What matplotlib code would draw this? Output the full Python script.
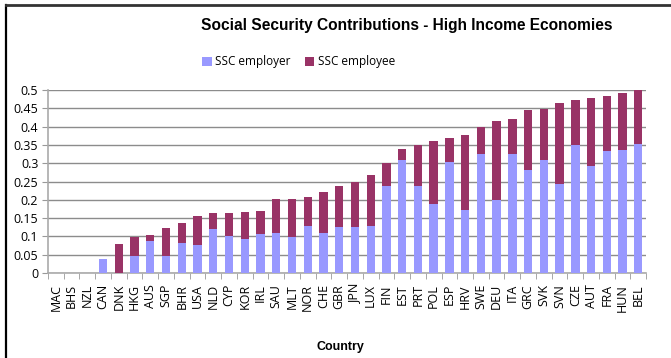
import numpy as np
import matplotlib.pyplot as plt
from matplotlib.lines import Line2D

# SSC rates as share of wages, sorted by total
countries = ["MAC", "BHS", "NZL", "CAN", "DNK", "HKG", "AUS", "SGP", "BHR", "USA",
             "NLD", "CYP", "KOR", "IRL", "SAU", "MLT", "NOR", "CHE", "GBR", "JPN",
             "LUX", "FIN", "EST", "PRT", "POL", "ESP", "HRV", "SWE", "DEU", "ITA",
             "GRC", "SVK", "SVN", "CZE", "AUT", "FRA", "HUN", "BEL"]
ssc_employer = [0, 0, 0, 0.039, 0, 0.047, 0.088, 0.047, 0.083, 0.077,
                0.121, 0.102, 0.094, 0.107, 0.110, 0.099, 0.129, 0.110, 0.126, 0.126,
                0.129, 0.238, 0.309, 0.238, 0.189, 0.304, 0.173, 0.325, 0.200, 0.325,
                0.282, 0.309, 0.244, 0.350, 0.293, 0.334, 0.336, 0.353]
ssc_total = [0, 0, 0, 0.039, 0.080, 0.099, 0.105, 0.124, 0.137, 0.156,
             0.165, 0.165, 0.167, 0.170, 0.203, 0.203, 0.208, 0.222, 0.238, 0.249,
             0.268, 0.301, 0.339, 0.350, 0.361, 0.369, 0.377, 0.399, 0.415, 0.421,
             0.445, 0.448, 0.465, 0.473, 0.478, 0.484, 0.492, 0.500]
ssc_employee = [round(t - e, 3) for t, e in zip(ssc_total, ssc_employer)]

fig = plt.figure(figsize=(6.71, 3.58), dpi=100)
ax = fig.add_axes([0.0715, 0.2374, 0.8915, 0.5112])

x = np.arange(len(countries))
ax.bar(x, ssc_employer, width=0.53, color="#9999FF", label="SSC employer", zorder=3)
ax.bar(x, ssc_employee, width=0.53, bottom=ssc_employer, color="#993366",
       label="SSC employee", zorder=3)

ax.set_xlim(-0.5, len(countries) - 0.5)
ax.set_ylim(0, 0.5)
ax.set_yticks(np.arange(0, 0.51, 0.05))
ax.set_yticklabels(["0", "0.05", "0.1", "0.15", "0.2", "0.25", "0.3", "0.35",
                    "0.4", "0.45", "0.5"], fontsize=9, family="Open Sans")
ax.yaxis.grid(True, color="#8c8c8c", linewidth=1, zorder=0)

ax.set_xticks(x)
ax.set_xticklabels(countries, rotation=90, fontsize=9, family="Open Sans")
ax.set_xticks(np.arange(-0.5, len(countries), 1), minor=True)
ax.tick_params(axis="x", which="major", length=0, pad=8)
ax.tick_params(axis="x", which="minor", length=4, color="#999999")
ax.tick_params(axis="y", length=4, color="#999999", pad=3)

for side in ["top", "right"]:
    ax.spines[side].set_visible(False)
for side in ["left", "bottom"]:
    ax.spines[side].set_color("#aaaaaa")
    ax.spines[side].set_linewidth(1.2)

fig.text(0.606, 0.93, "Social Security Contributions - High Income Economies",
         ha="center", va="center", fontsize=11.2, fontweight="bold",
         family="Liberation Sans")
fig.legend(loc="center", bbox_to_anchor=(0.445, 1 - 62 / 358), ncol=2,
           frameon=False, prop={"family": "Open Sans", "size": 8.5},
           handlelength=0.8, handleheight=0.8, handletextpad=0.3,
           columnspacing=1.2)
fig.text(0.507, 1 - 347 / 358, "Country", ha="center", va="center",
         fontsize=9, fontweight="bold", family="Liberation Sans")

# outer frame, left and top only
fig.add_artist(Line2D([6 / 671, 6 / 671], [0, 1 - 5 / 358], color="black",
                      linewidth=1.6, transform=fig.transFigure))
fig.add_artist(Line2D([6 / 671, 1], [1 - 5 / 358, 1 - 5 / 358], color="#333333",
                      linewidth=2, transform=fig.transFigure))

fig.savefig("out.png", dpi=100)
